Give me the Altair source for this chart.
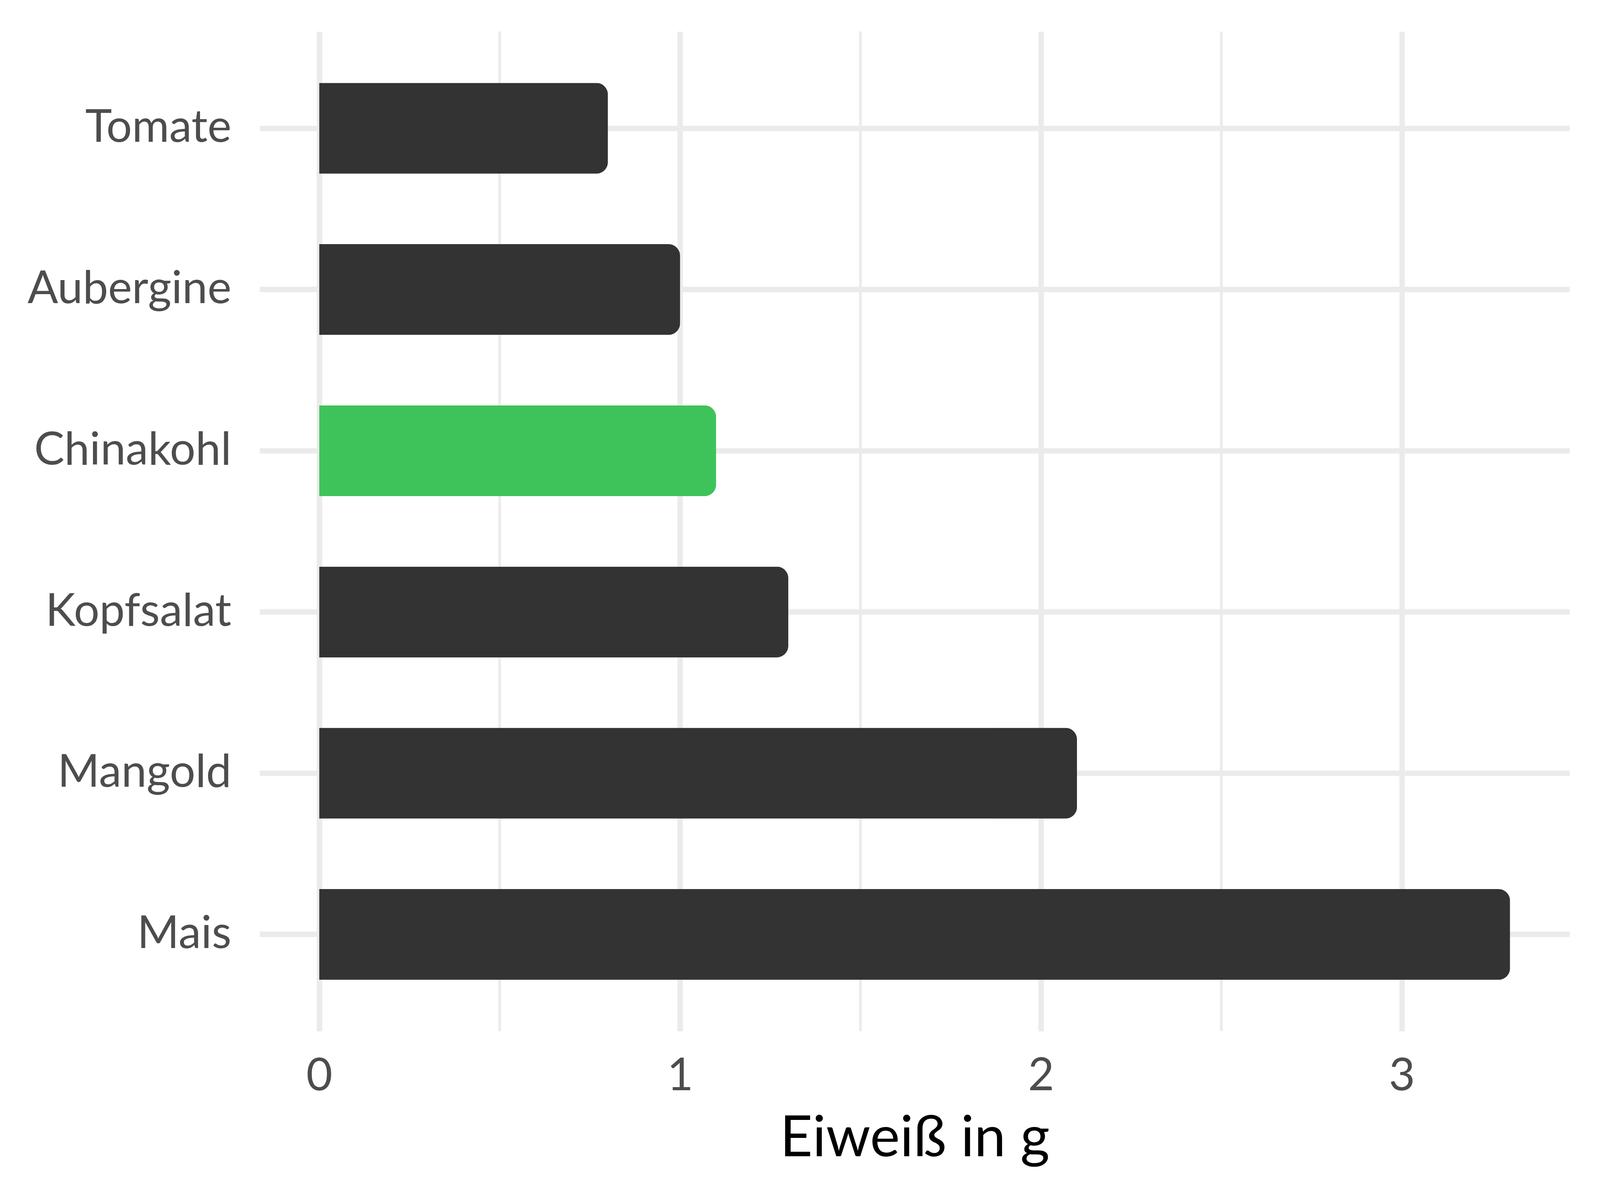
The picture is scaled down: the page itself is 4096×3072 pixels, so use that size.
import altair as alt
import pandas as pd

# data
names = ["Tomate", "Aubergine", "Chinakohl", "Kopfsalat", "Mangold", "Mais"]
values = [0.8, 1.0, 1.1, 1.3, 2.1, 3.3]
highlight = "Chinakohl"
x_ticks = [0, 1, 2, 3]
x_minor = [0.5, 1.5, 2.5]
x_title = "Eiweiß in g"

df = pd.DataFrame({"name": names, "value": values})
minor_df = pd.DataFrame({"value": x_minor})

W, H = 3360, 2564
GRID = "#EBEBEB"
FONT = "Lato"
xscale = alt.Scale(domain=[-0.165, 3.465], nice=False)

xaxis = alt.Axis(
    values=x_ticks, title=x_title, grid=True, gridColor=GRID, gridWidth=14,
    domain=False, ticks=False, labelFont=FONT, labelFontSize=116,
    labelColor="#4D4D4D", labelBaseline="alphabetic", labelPadding=151,
    labelFlush=False, labelOverlap=False,
    titleFont=FONT, titleFontSize=145, titleColor="#000000",
    titleFontWeight="normal", titleBaseline="alphabetic", titleY=320,
)

minor = alt.Chart(minor_df).mark_rule(color=GRID, strokeWidth=7).encode(
    x=alt.X("value:Q", scale=xscale, axis=xaxis),
    y=alt.value(0),
    y2=alt.value(H),
)

bars = alt.Chart(df).mark_bar(cornerRadiusEnd=30).encode(
    x=alt.X("value:Q", scale=xscale, axis=xaxis),
    y=alt.Y(
        "name:N",
        sort=names,
        scale=alt.Scale(paddingInner=0.437, paddingOuter=0.3185),
        axis=alt.Axis(
            title=None, grid=True, gridColor=GRID, gridWidth=14, domain=False,
            ticks=False, labelFont=FONT, labelFontSize=116, labelColor="#4D4D4D",
            labelPadding=73, bandPosition=0.5, labelBaseline="middle",
            labelLimit=2000,
        ),
    ),
    color=alt.condition(
        alt.datum.name == highlight, alt.value("#3EC35A"), alt.value("#333333")
    ),
)

chart = (
    alt.layer(minor, bars)
    .properties(
        width=W,
        height=H,
        padding={"left": 658, "top": 70, "right": 70, "bottom": 430},
        autosize=alt.AutoSizeParams(type="none"),
        background="white",
    )
    .configure_view(stroke=None)
)

chart.save("out.html", embed_options={"renderer": "svg", "actions": False})
